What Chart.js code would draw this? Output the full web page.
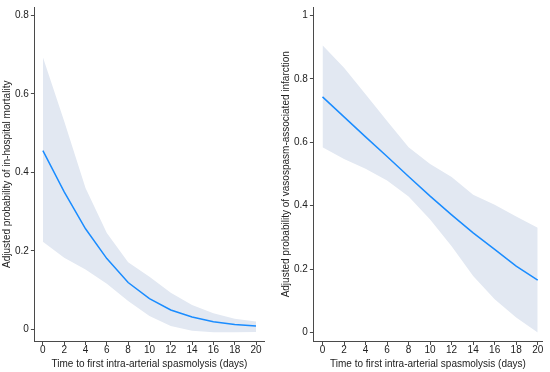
<!DOCTYPE html>
<html>
<head>
<meta charset="utf-8">
<script src="https://cdn.jsdelivr.net/npm/chart.js@4.4.1/dist/chart.umd.min.js"></script>
<style>
  html, body { margin: 0; padding: 0; background: #fff; }
  #wrap { position: relative; width: 550px; height: 372px; }
  .box { position: absolute; top: 0; height: 372px; }
  #boxL { left: 0; width: 275px; }
  #boxR { left: 275px; width: 275px; }
</style>
</head>
<body>
<div id="wrap">
  <div class="box" id="boxL"><canvas id="mortalityChart"></canvas></div>
  <div class="box" id="boxR"><canvas id="infarctChart"></canvas></div>
</div>
<script>
// ==================== DATA ====================
const days = [0, 2, 4, 6, 8, 10, 12, 14, 16, 18, 20];

// in-hospital mortality
const mortMean  = [0.455, 0.35, 0.256, 0.18, 0.119, 0.078, 0.049, 0.031, 0.019, 0.012, 0.008];
const mortUpper = [0.693, 0.53, 0.36, 0.245, 0.171, 0.134, 0.093, 0.062, 0.041, 0.027, 0.02];
const mortLower = [0.223, 0.182, 0.152, 0.116, 0.072, 0.034, 0.008, -0.004, -0.008, -0.008, -0.007];

// vasospasm-associated infarction
const infMean  = [0.743, 0.68, 0.617, 0.555, 0.492, 0.43, 0.371, 0.314, 0.262, 0.209, 0.165];
const infUpper = [0.906, 0.835, 0.751, 0.667, 0.584, 0.531, 0.49, 0.434, 0.403, 0.366, 0.33];
const infLower = [0.584, 0.547, 0.516, 0.479, 0.429, 0.356, 0.272, 0.178, 0.105, 0.047, 0.0];

const xTicks = [0, 2, 4, 6, 8, 10, 12, 14, 16, 18, 20];
const xTitle = 'Time to first intra-arterial spasmolysis (days)';

// ==================== CHARTS ====================
const axisColor = '#4a4a4a';
const textColor = '#222';
const fontFam = "'Liberation Sans Narrow', 'Liberation Sans', Arial, sans-serif";
const tickFont = { family: fontFam, size: 10, lineHeight: 1.1 };
const titleFont = { family: fontFam, size: 10, lineHeight: 1.1 };

function pts(ys) { return days.map((d, i) => ({ x: d, y: ys[i] })); }

function fmtY(v) {
  if (Math.abs(v) < 1e-9) return '0';
  if (Math.abs(v - 1) < 1e-9) return '1';
  return v.toFixed(1);
}

function makeChart(id, mean, upper, lower, yTitle, yMin, yMax, xMin, xMax, pad) {
  const ctx = document.getElementById(id).getContext('2d');
  return new Chart(ctx, {
    type: 'line',
    data: {
      datasets: [
        {
          label: 'upper',
          data: pts(upper),
          borderWidth: 0,
          pointRadius: 0,
          backgroundColor: 'rgba(226,232,242,1)',
          fill: '+1',
          order: 2
        },
        {
          label: 'lower',
          data: pts(lower),
          borderWidth: 0,
          pointRadius: 0,
          fill: false,
          order: 1
        },
        {
          label: 'mean',
          data: pts(mean),
          borderColor: '#1a8cff',
          borderWidth: 1.5,
          pointRadius: 0,
          fill: false,
          order: 0
        }
      ]
    },
    options: {
      responsive: true,
      maintainAspectRatio: false,
      animation: false,
      layout: { padding: pad },
      plugins: { legend: { display: false }, tooltip: { enabled: false } },
      scales: {
        x: {
          type: 'linear',
          min: xMin, max: xMax,
          afterBuildTicks: axis => { axis.ticks = xTicks.map(v => ({ value: v })); },
          ticks: { color: textColor, font: tickFont, padding: 0, maxRotation: 0 },
          grid: { drawOnChartArea: false, drawTicks: true, tickLength: 4, color: axisColor },
          border: { color: axisColor, width: 1 },
          title: { display: true, text: xTitle, color: textColor, font: titleFont, padding: { top: 3, bottom: 0 } }
        },
        y: {
          min: yMin, max: yMax,
          ticks: { stepSize: 0.2, includeBounds: false, color: textColor, font: tickFont, padding: 2, callback: fmtY },
          grid: { drawOnChartArea: false, drawTicks: true, tickLength: 4, color: axisColor },
          border: { color: axisColor, width: 1 },
          title: { display: true, text: yTitle, color: textColor, font: titleFont, padding: { top: 0, bottom: 0 } }
        }
      }
    }
  });
}

makeChart('mortalityChart', mortMean, mortUpper, mortLower,
  'Adjusted probability of in-hospital mortality', -0.03, 0.82, -0.75, 20.75,
  { top: 3, right: 11, left: 2, bottom: 2 });

makeChart('infarctChart', infMean, infUpper, infLower,
  'Adjusted probability of vasospasm-associated infarction', -0.027, 1.025, -0.8, 20.4,
  { top: 3, right: 8, left: 6, bottom: 2 });
</script>
</body>
</html>
